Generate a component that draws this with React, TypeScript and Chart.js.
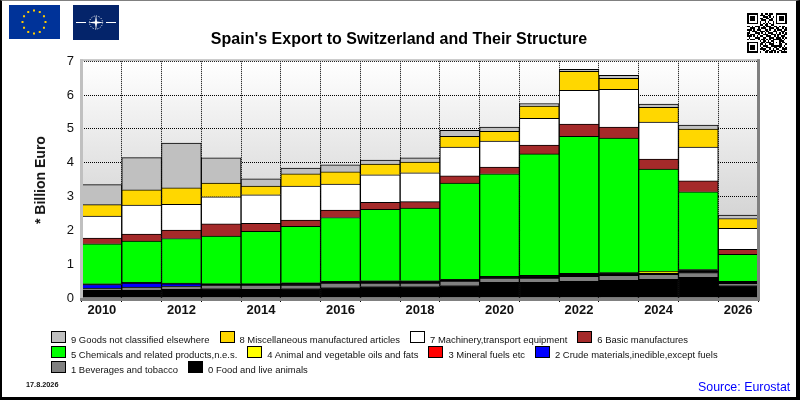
import React, { useEffect, useRef } from "react";
import { Chart, registerables } from "chart.js";

Chart.register(...registerables);

const FONT = "'Liberation Sans', Arial, sans-serif";

const years = ["2010", "2011", "2012", "2013", "2014", "2015", "2016", "2017", "2018", "2019", "2020", "2021", "2022", "2023", "2024", "2025", "2026"];

// Billion Euro
const food = [0.225, 0.225, 0.255, 0.28, 0.255, 0.28, 0.31, 0.34, 0.34, 0.37, 0.46, 0.46, 0.49, 0.52, 0.55, 0.61, 0.37];
const beverages = [0.065, 0.095, 0.095, 0.1, 0.125, 0.1, 0.13, 0.1, 0.1, 0.13, 0.13, 0.13, 0.15, 0.15, 0.15, 0.14, 0.06];
const crude = [0.11, 0.12, 0.07, 0.03, 0.03, 0.04, 0.03, 0.04, 0.04, 0.03, 0.03, 0.04, 0.04, 0.04, 0.03, 0.04, 0.03];
const fuels = [0.005, 0.005, 0.005, 0.005, 0.005, 0.01, 0.01, 0.01, 0.01, 0.01, 0.01, 0.01, 0.02, 0.01, 0.01, 0.02, 0.01];
const oils = [0.015, 0.015, 0.015, 0.005, 0.005, 0.02, 0.01, 0.02, 0.02, 0.01, 0.01, 0.03, 0.03, 0.03, 0.05, 0.03, 0.02];
const chemicals = [1.18, 1.22, 1.32, 1.41, 1.55, 1.67, 1.89, 2.11, 2.15, 2.85, 3.03, 3.59, 4.05, 3.98, 3.02, 2.3, 0.8];
const basic = [0.17, 0.21, 0.25, 0.36, 0.24, 0.18, 0.22, 0.21, 0.19, 0.21, 0.2, 0.26, 0.36, 0.32, 0.3, 0.32, 0.15];
const machinery = [0.65, 0.86, 0.76, 0.8, 0.84, 1.01, 0.77, 0.81, 0.85, 0.85, 0.77, 0.79, 1.0, 1.12, 1.09, 1.0, 0.62];
const misc = [0.34, 0.45, 0.49, 0.41, 0.26, 0.36, 0.36, 0.32, 0.32, 0.32, 0.29, 0.36, 0.56, 0.32, 0.44, 0.53, 0.29];
const goods = [0.59, 0.95, 1.32, 0.74, 0.21, 0.17, 0.21, 0.12, 0.12, 0.18, 0.12, 0.08, 0.06, 0.09, 0.09, 0.12, 0.1];

const seriesNames = [
  "0 Food and live animals",
  "1 Beverages and tobacco",
  "2 Crude materials,inedible,except fuels",
  "3 Mineral fuels etc",
  "4 Animal and vegetable oils and fats",
  "5 Chemicals and related products,n.e.s.",
  "6 Basic manufactures",
  "7 Machinery,transport equipment",
  "8 Miscellaneous manufactured articles",
  "9 Goods not classified elsewhere",
];
const seriesValues = [food, beverages, crude, fuels, oils, chemicals, basic, machinery, misc, goods];
const seriesColors = ["#000000", "#808080", "#0000ff", "#ff0000", "#ffff00", "#00ff00", "#a52a2a", "#ffffff", "#ffd700", "#c0c0c0"];

// legend rows, as indexes into the series
const legendRows = [
  [9, 8, 7, 6],
  [5, 4, 3, 2],
  [1, 0],
];

const qrRows = [
  "1111111001011011001111111",
  "1000001011100110001000001",
  "1011101000111010101011101",
  "1011101011001101001011101",
  "1011101001110011001011101",
  "1000001010010100101000001",
  "1111111010101010101111111",
  "0000000011011001100000000",
  "1101011100101110011010110",
  "0011100101110011101100101",
  "1110101110011010010111011",
  "0101110011101100111001110",
  "1100011101010111001010101",
  "1011100100111001110110011",
  "1110101011001110010101110",
  "0100011100110011101110101",
  "1011100101101010111111010",
  "0000000010110101100011100",
  "1111111001101110101010110",
  "1000001011010011100011001",
  "1011101010111001111111010",
  "1011101001001110011010101",
  "1011101011110010101100111",
  "1000001000101101110011010",
  "1111111010011011010101111",
];

const plotStyle = {
  id: "plotStyle",
  beforeDraw(chart: Chart) {
    const { ctx, chartArea: a } = chart;
    const g = ctx.createLinearGradient(0, a.top, 0, a.bottom);
    g.addColorStop(0, "#ffffff");
    g.addColorStop(1, "#bebebe");
    ctx.save();
    ctx.fillStyle = g;
    ctx.fillRect(a.left, a.top, a.right - a.left, a.bottom - a.top);
    ctx.restore();
  },
  afterDraw(chart: Chart) {
    const { ctx, chartArea: a } = chart;
    ctx.save();
    ctx.fillStyle = "#c0c0c0";
    ctx.fillRect(a.left - 2, a.top - 2, a.right - a.left + 4, 2);
    ctx.fillRect(a.left - 2, a.top - 2, 3, a.bottom - a.top + 4);
    ctx.fillStyle = "#808080";
    ctx.fillRect(a.right - 1, a.top - 2, 3, a.bottom - a.top + 5);
    ctx.fillRect(a.left - 2, a.bottom, a.right - a.left + 4, 3);
    ctx.restore();
  },
};

function Flags() {
  const stars = Array.from({ length: 12 }, (_, i) => (i * Math.PI) / 6);
  return (
    <svg width={130} height={45} style={{ position: "absolute", left: 0, top: 0 }}>
      <rect x={9} y={5} width={51} height={34} fill="#003399" />
      {stars.map((t) => (
        <rect key={t} x={34 + 11.5 * Math.sin(t) - 1} y={22 - 11.5 * Math.cos(t) - 1} width={2} height={2} fill="#ffcc00" />
      ))}
      <rect x={73} y={5} width={46} height={35} fill="#04246a" />
      <path d="M76 22.5H86M106 22.5H116" stroke="#fff" />
      <circle cx={96} cy={22.5} r={6.5} fill="none" stroke="#fff" strokeDasharray="1 1.5" />
      <path d="M96 15L97 21.5L104 22.5L97 23.5L96 30L95 23.5L88 22.5L95 21.5Z" fill="#fff" />
    </svg>
  );
}

function QrCode() {
  return (
    <svg width={40} height={40} viewBox="0 0 25 25" shapeRendering="crispEdges" style={{ position: "absolute", left: 747, top: 13 }}>
      {qrRows.flatMap((row, y) =>
        row.split("").map((c, x) => (c === "1" ? <rect key={`${x}-${y}`} x={x} y={y} width={1} height={1} fill="#000" /> : null))
      )}
    </svg>
  );
}

function Legend() {
  return (
    <div style={{ position: "absolute", left: 51, top: 331, font: `9.45px ${FONT}`, color: "#111" }}>
      {legendRows.map((row, r) => (
        <div key={r} style={{ display: "flex", height: 15 }}>
          {row.map((s) => (
            <div key={s} style={{ display: "flex", marginRight: 10, whiteSpace: "nowrap" }}>
              <span style={{ boxSizing: "border-box", width: 15, height: 12, border: "1px solid #000", background: seriesColors[s], marginRight: 5 }} />
              <span style={{ lineHeight: "17px" }}>{seriesNames[s]}</span>
            </div>
          ))}
        </div>
      ))}
    </div>
  );
}

export default function App() {
  const canvasRef = useRef<HTMLCanvasElement>(null);

  useEffect(() => {
    if (!canvasRef.current) return;
    const chart = new Chart(canvasRef.current, {
      type: "bar",
      data: {
        labels: years,
        datasets: seriesValues.map((values, i) => ({
          label: seriesNames[i],
          data: values,
          // slivers thinner than their border read as plain black in the reference
          backgroundColor: (c: any) => (c.raw < 0.045 ? "#000000" : seriesColors[i]),
          borderColor: "#000000",
          borderWidth: 1,
          categoryPercentage: 1,
          barPercentage: 1,
        })),
      },
      options: {
        responsive: false,
        animation: false,
        layout: { padding: { left: 40, right: 42, top: 0, bottom: 0 } },
        plugins: {
          legend: { display: false },
          tooltip: { enabled: false },
          title: {
            display: true,
            text: "Spain's Export to Switzerland and Their Structure",
            color: "#000000",
            font: { family: FONT, size: 16, weight: "bold" },
            padding: { top: 30, bottom: 12 },
          },
        },
        scales: {
          x: {
            stacked: true,
            afterFit: (scale: any) => {
              scale.height = 102;
            },
            grid: { color: "#000000", lineWidth: 1, tickBorderDash: [], tickColor: "#000000", tickLength: 4 },
            border: { display: false, dash: [1, 1] },
            ticks: {
              autoSkip: false,
              maxRotation: 0,
              padding: 1,
              color: "#111111",
              font: { family: FONT, size: 13, weight: "bold" },
              callback: (_v: any, i: number) => (i % 2 === 0 ? years[i] : ""),
            },
          },
          y: {
            stacked: true,
            min: 0,
            max: 7,
            afterFit: (scale: any) => {
              scale.width = 42;
            },
            grid: { color: "#000000", lineWidth: 1, drawTicks: false },
            border: { display: false, dash: [1, 1] },
            ticks: {
              stepSize: 1,
              padding: 8,
              color: "#111111",
              font: { family: FONT, size: 13 },
            },
          },
        },
      },
      plugins: [plotStyle],
    });
    return () => chart.destroy();
  }, []);

  return (
    <div style={{ position: "absolute", left: 0, top: 0, width: 800, height: 400, overflow: "hidden", background: "#fff" }}>
      <canvas ref={canvasRef} width={800} height={400} style={{ position: "absolute", left: 0, top: 0 }} />
      <Flags />
      <QrCode />
      <div
        style={{
          position: "absolute",
          left: 40,
          top: 180,
          transform: "translate(-50%, -50%) rotate(-90deg)",
          font: `bold 14px ${FONT}`,
          color: "#111",
          whiteSpace: "nowrap",
        }}
      >
        * Billion Euro
      </div>
      <Legend />
      <div style={{ position: "absolute", left: 26, top: 380, font: `bold 7.3px ${FONT}`, color: "#111" }}>17.8.2026</div>
      <div style={{ position: "absolute", left: 698, top: 380, font: `12.4px ${FONT}`, color: "#0000ff" }}>Source: Eurostat</div>
      <div
        style={{
          position: "absolute",
          inset: 0,
          boxSizing: "border-box",
          borderStyle: "solid",
          borderColor: "#000",
          borderWidth: "1px 4px 3px 2px",
          borderTopColor: "#808080",
          pointerEvents: "none",
        }}
      />
    </div>
  );
}
